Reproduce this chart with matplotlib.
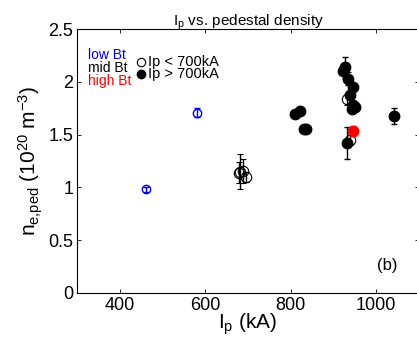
import matplotlib
matplotlib.use("Agg")
import matplotlib.pyplot as plt

plt.rcParams['font.family'] = ['Liberation Sans', 'DejaVu Sans']
plt.rcParams['mathtext.fontset'] = 'custom'
plt.rcParams['mathtext.rm'] = 'Liberation Sans'
plt.rcParams['mathtext.it'] = 'Liberation Sans'

# low Bt (blue, open)
ip_low = [460, 581]
ne_low = [0.98, 1.71]
err_low = [0.02, 0.04]

# mid Bt, Ip < 700kA (open)
ip_mid_open = [678, 682, 689, 696, 933, 938]
ne_mid_open = [1.14, 1.15, 1.155, 1.10, 1.835, 1.45]
err_mid_open = [0.10, 0.17, 0.11, 0.05, 0.05, 0.05]

# mid Bt, Ip > 700kA (filled)
ip_mid_fill = [810, 822, 832, 836, 922, 928, 935, 946, 940, 947, 943, 951, 933, 1041]
ne_mid_fill = [1.70, 1.72, 1.55, 1.55, 2.10, 2.14, 2.03, 1.955, 1.88, 1.78, 1.74, 1.765, 1.42, 1.675]
err_mid_fill = [0.02, 0.02, 0.02, 0.02, 0.03, 0.10, 0.06, 0.03, 0.03, 0.03, 0.03, 0.03, 0.15, 0.075]

# high Bt (red, filled)
ip_high = [947]
ne_high = [1.535]
err_high = [0.05]

fig = plt.figure(figsize=(4.17, 3.45), dpi=100)
ax = fig.add_axes([0.1854, 0.1516, 0.8187, 0.7635])

ax.errorbar(ip_low, ne_low, yerr=err_low, fmt='o', mfc='none', mec='blue',
            ecolor='blue', ms=6, mew=1, capsize=2, elinewidth=1)
ax.errorbar(ip_mid_open, ne_mid_open, yerr=err_mid_open, fmt='o', mfc='none', mec='black',
            ecolor='black', ms=7.5, mew=0.8, capsize=2, elinewidth=1)
ax.errorbar(ip_mid_fill, ne_mid_fill, yerr=err_mid_fill, fmt='o', mfc='black', mec='black',
            ecolor='black', ms=7.5, capsize=2, elinewidth=1)
ax.errorbar(ip_high, ne_high, yerr=err_high, fmt='o', mfc='red', mec='red',
            ecolor='red', ms=7.5, capsize=2, elinewidth=1)

ax.set_xlim(300, 1100)
ax.set_ylim(0, 2.5)
ax.set_xticks([400, 600, 800, 1000])
ax.set_yticks([0, 0.5, 1, 1.5, 2, 2.5])
ax.set_yticklabels(['0', '0.5', '1', '1.5', '2', '2.5'])
ax.tick_params(direction='in', top=True, right=True, length=3, width=0.6, labelsize=13, pad=3)
for s in ax.spines.values():
    s.set_linewidth(0.8)

ax.set_xlabel(r'$\mathregular{I_p}$ (kA)', fontsize=15, labelpad=-2)
ax.set_ylabel(r'$\mathregular{n_{e{,}ped}}$ $\mathregular{(10^{20}\ m^{-3})}$', fontsize=15, labelpad=2)
ax.set_title(r'$\mathregular{I_p}$ vs. pedestal density', fontsize=11, pad=3)

# legend-like annotations
ax.text(0.03, 0.902, 'low Bt', color='blue', fontsize=10, transform=ax.transAxes, va='center')
ax.text(0.03, 0.852, 'mid Bt', color='black', fontsize=10, transform=ax.transAxes, va='center')
ax.text(0.03, 0.804, 'high Bt', color='red', fontsize=10, transform=ax.transAxes, va='center')
ax.plot([0.188], [0.877], 'o', mfc='none', mec='black', ms=6, mew=0.8, transform=ax.transAxes)
ax.plot([0.188], [0.829], 'o', mfc='black', mec='black', ms=6, transform=ax.transAxes)
ax.text(0.208, 0.877, 'Ip < 700kA', fontsize=10.5, transform=ax.transAxes, va='center')
ax.text(0.208, 0.829, 'Ip > 700kA', fontsize=10.5, transform=ax.transAxes, va='center')

ax.text(1026, 0.26, '(b)', fontsize=12, ha='center', va='center')

fig.savefig('out.png', dpi=100)
